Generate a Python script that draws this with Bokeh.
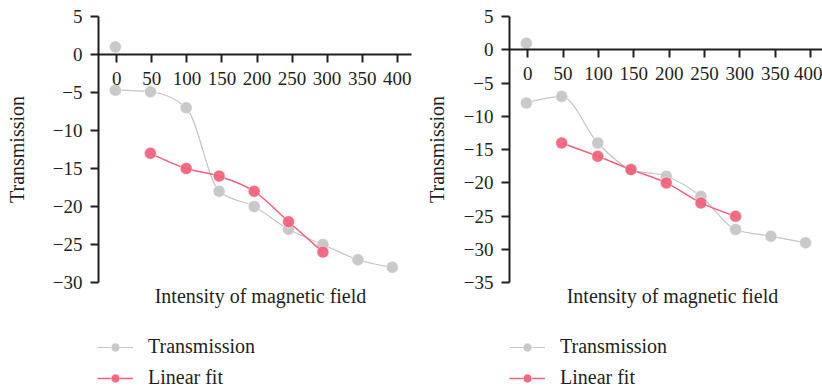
import numpy as np
from bokeh.plotting import figure
from bokeh.models import LinearAxis, FixedTicker, Legend, LegendItem, Range1d
from bokeh.layouts import row
from bokeh.embed import file_html
from bokeh.resources import INLINE

# ---------------- data ----------------
x_field = [-2, 48, 99, 146, 196, 245, 294, 344, 393]
x_fit = [48, 99, 146, 196, 245, 294]
x_lone = [-2]

left_trans = [-4.7, -4.9, -7, -18, -20, -23, -25, -27, -28]
left_fit = [-13, -15, -16, -18, -22, -26]
left_lone = [1]

right_trans = [-8, -7, -14, -18, -19, -22, -27, -28, -29]
right_fit = [-14, -16, -18, -20, -23, -25]
right_lone = [1]

x_ticks = [0, 50, 100, 150, 200, 250, 300, 350, 400]
x_tick_labels = ["0", "50", "100", "150", "200", "250", "300", "350", "400"]
left_y_ticks = [5, 0, -5, -10, -15, -20, -25, -30]
left_y_tick_labels = ["5", "0", "\u22125", "\u221210", "\u221215", "\u221220", "\u221225", "\u221230"]
right_y_ticks = [5, 0, -5, -10, -15, -20, -25, -30, -35]
right_y_tick_labels = ["5", "0", "\u22125", "\u221210", "\u221215", "\u221220", "\u221225", "\u221230", "\u221235"]

x_title = "Intensity of magnetic field"
y_title = "Transmission"
series_names = ["Transmission", "Linear fit"]

# ---------------- style ----------------
FONT = "Liberation Serif"
INK = "#231f20"
GRAY_LINE = "#c4c4c4"
GRAY_PT = "#c6c6c6"
RED = "#f2607b"


def monotone_bezier(xs, ys):
    """Control points of a monotone-X cubic curve through the data points."""
    xs = np.asarray(xs, float)
    ys = np.asarray(ys, float)
    n = len(xs)
    t = np.zeros(n)
    for i in range(1, n - 1):
        h0 = xs[i] - xs[i - 1]
        h1 = xs[i + 1] - xs[i]
        s0 = (ys[i] - ys[i - 1]) / h0
        s1 = (ys[i + 1] - ys[i]) / h1
        pp = (s0 * h1 + s1 * h0) / (h0 + h1)
        t[i] = (np.sign(s0) + np.sign(s1)) * min(abs(s0), abs(s1), 0.5 * abs(pp))
    h = xs[1] - xs[0]
    t[0] = (3 * (ys[1] - ys[0]) / h - t[1]) / 2
    h = xs[-1] - xs[-2]
    t[-1] = (3 * (ys[-1] - ys[-2]) / h - t[-2]) / 2
    x0 = xs[:-1]
    x1 = xs[1:]
    y0 = ys[:-1]
    y1 = ys[1:]
    hh = x1 - x0
    return dict(x0=x0, y0=y0, x1=x1, y1=y1,
                cx0=x0 + hh / 3, cy0=y0 + hh * t[:-1] / 3,
                cx1=x1 - hh / 3, cy1=y1 - hh * t[1:] / 3)


def panel(width, xr, xbounds, yr, ybounds, trans, fit, lone, yticks, ylabels,
          label_standoff, legend_x):
    p = figure(width=width, height=391, x_range=Range1d(*xr), y_range=Range1d(*yr),
               output_backend="svg", toolbar_location=None,
               x_axis_location=None, y_axis_location=None,
               min_border_left=0, min_border_right=0,
               min_border_top=0, min_border_bottom=0)
    p.outline_line_color = None
    p.grid.visible = False
    p.background_fill_color = "white"
    p.border_fill_color = "white"

    # x axis crossing at y = 0
    xa = LinearAxis(ticker=FixedTicker(ticks=x_ticks),
                    major_label_overrides=dict(zip(x_ticks, x_tick_labels)),
                    bounds=xbounds, fixed_location=0)
    xa.axis_line_width = 2
    xa.axis_line_color = INK
    xa.major_tick_line_width = 2
    xa.major_tick_line_color = INK
    xa.major_tick_out = 8
    xa.major_tick_in = 0
    xa.minor_tick_line_color = None
    xa.major_label_standoff = 9
    xa.major_label_text_font = FONT
    xa.major_label_text_font_size = "19px"
    xa.major_label_text_color = INK
    p.add_layout(xa, "below")

    # x axis title, under the bottom of the y axis
    ta = LinearAxis(ticker=FixedTicker(ticks=[]), axis_label=x_title,
                    bounds=(0, 410), fixed_location=ybounds[0])
    ta.axis_line_color = None
    ta.major_tick_line_color = None
    ta.minor_tick_line_color = None
    ta.major_tick_out = 0
    ta.major_tick_in = 0
    ta.minor_tick_out = 0
    ta.minor_tick_in = 0
    ta.major_label_standoff = 0
    ta.axis_label_standoff = 2
    ta.axis_label_text_font = FONT
    ta.axis_label_text_font_size = "20px"
    ta.axis_label_text_font_style = "normal"
    ta.axis_label_text_color = INK
    p.add_layout(ta, "below")

    # y axis at the left end of the x axis, spanning only its bounds
    ya = LinearAxis(ticker=FixedTicker(ticks=yticks),
                    major_label_overrides=dict(zip(yticks, ylabels)),
                    axis_label=y_title, bounds=ybounds, fixed_location=xbounds[0])
    ya.axis_line_width = 2
    ya.axis_line_color = INK
    ya.major_tick_line_width = 2
    ya.major_tick_line_color = INK
    ya.major_tick_out = 8
    ya.major_tick_in = 0
    ya.minor_tick_line_color = None
    ya.major_label_standoff = 8
    ya.major_label_text_font = FONT
    ya.major_label_text_font_size = "19px"
    ya.major_label_text_color = INK
    ya.axis_label_standoff = label_standoff
    ya.axis_label_text_font = FONT
    ya.axis_label_text_font_size = "20px"
    ya.axis_label_text_font_style = "normal"
    ya.axis_label_text_color = INK
    p.add_layout(ya, "left")

    gl = p.bezier(**monotone_bezier(x_field, trans), line_color=GRAY_LINE, line_width=1.2)
    gs = p.scatter(x_field, trans, size=12, fill_color=GRAY_PT, fill_alpha=0.95,
                   line_color="white", line_alpha=0.5, line_width=1)
    p.scatter(x_lone, lone, size=12, fill_color=GRAY_PT, fill_alpha=0.95,
              line_color="white", line_alpha=0.5, line_width=1)
    rl = p.bezier(**monotone_bezier(x_fit, fit), line_color=RED, line_width=1.5)
    rs = p.scatter(x_fit, fit, size=12, fill_color=RED, fill_alpha=0.92,
                   line_color="white", line_alpha=0.5, line_width=1)

    legend = Legend(items=[LegendItem(label=series_names[0], renderers=[gl, gs]),
                           LegendItem(label=series_names[1], renderers=[rl, rs])],
                    location=(legend_x, 2), orientation="vertical")
    legend.glyph_width = 36
    legend.glyph_height = 22
    legend.label_height = 22
    legend.label_standoff = 15
    legend.spacing = 8
    legend.padding = 0
    legend.margin = 0
    legend.border_line_color = None
    legend.background_fill_alpha = 0
    legend.label_text_font = FONT
    legend.label_text_font_size = "20px"
    legend.label_text_color = INK
    p.add_layout(legend)
    return p


p1 = panel(419, (-165.9, 431.8), (-26, 420), (-44.34, 7.105), (-30, 5),
           left_trans, left_fit, left_lone, left_y_ticks, left_y_tick_labels, 22, 97)
p2 = panel(403, (-153.2, 417), (-26, 417), (-51.33, 7.403), (-35, 5),
           right_trans, right_fit, right_lone, right_y_ticks, right_y_tick_labels, 13, 90)

layout = row(p1, p2)
open("out.html", "w").write(file_html(layout, INLINE))
